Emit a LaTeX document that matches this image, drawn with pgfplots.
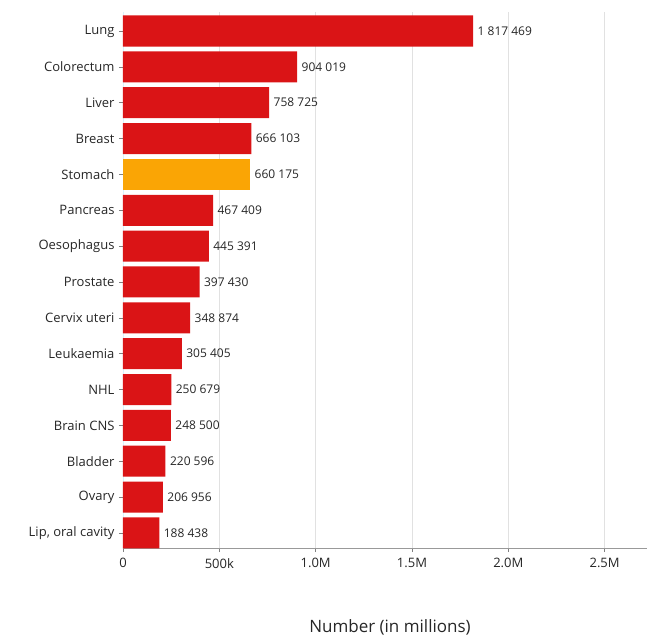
\documentclass[border=0pt]{standalone}
\usepackage{pgfplots}
\pgfplotsset{compat=1.18}
\usepackage{fontspec}
\setmainfont{Open Sans}
\definecolor{barred}{RGB}{218,20,22}
\definecolor{barorange}{RGB}{250,165,5}
\definecolor{gridc}{RGB}{225,225,225}
\begin{document}
\begin{tikzpicture}
\begin{axis}[
  name=ax,
  scale only axis,
  width=524pt, height=536pt,
  xbar, bar width=0.865, bar shift=0pt,
  y dir=reverse,
  ymin=-0.53, ymax=14.42,
  xmin=0, xmax=2720000,
  ytick={0,...,14},
  yticklabels={Lung,Colorectum,Liver,Breast,Stomach,Pancreas,Oesophagus,Prostate,Cervix uteri,Leukaemia,NHL,Brain CNS,Bladder,Ovary,{Lip, oral cavity}},
  xtick={0,500000,1000000,1500000,2000000,2500000},
  xticklabels={0,500k,1.0M,1.5M,2.0M,2.5M},
  scaled x ticks=false,
  axis x line*=bottom,
  axis y line*=left,
  x axis line style={draw=gray!80, line width=1pt},
  y axis line style={draw=cyan!15},
  xmajorgrids, grid style={gridc, line width=0.8pt},
  tick style={draw=gray, line width=0.6pt},
  major tick length=4pt,
  tick align=outside,
  ytick style={draw=gray},
  yticklabel style={font=\fontsize{13}{13}\selectfont, text=black!85, xshift=-1pt},
  xticklabel style={font=\fontsize{13}{13}\selectfont, text=black!85, yshift=-3pt},
  xlabel={Number (in millions)},
  xlabel style={font=\fontsize{17}{17}\selectfont, text=black!85, yshift=-44pt, xshift=5pt},
  nodes near coords,
  nodes near coords style={font=\fontsize{12}{12}\selectfont, text=black!85, anchor=west, xshift=1pt,
    /pgf/number format/.cd, fixed, precision=0, 1000 sep={\ }},
  every axis plot/.append style={draw=none},
  /pgf/number format/assume math mode=true,
  clip=false,
]
\addplot[fill=barred] coordinates {
(1817469,0) (904019,1) (758725,2) (666103,3)
(467409,5) (445391,6) (397430,7) (348874,8) (305405,9)
(250679,10) (248500,11) (220596,12) (206956,13) (188438,14)};
\addplot[fill=barorange] coordinates {(660175,4)};
\end{axis}
\pgfresetboundingbox
\path ([xshift=-123pt,yshift=-93pt]ax.south west) rectangle ([yshift=12pt]ax.north east);
\end{tikzpicture}
\end{document}
